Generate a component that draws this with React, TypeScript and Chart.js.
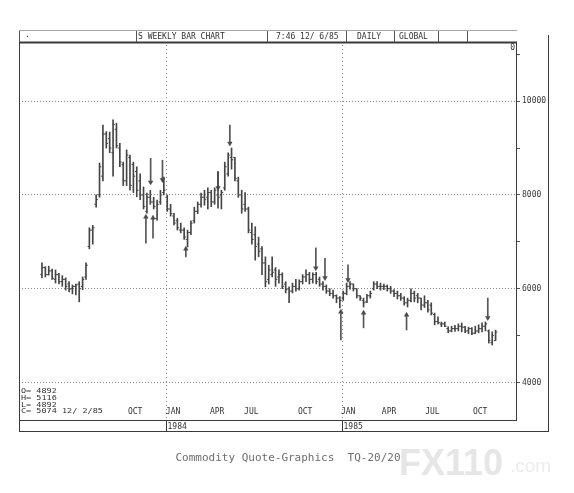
import React, { useEffect, useRef } from 'react';
import { Chart, registerables } from 'chart.js';

Chart.register(...registerables);

// Weekly OHLC (index 0 = first week shown, spring 1983; last = week of 12/2/85)
const highs = [
  6550, 6470, 6480, 6420, 6400, 6330, 6280, 6230, 6150, 6080,
  6100, 6150, 6250, 6550, 7300, 7350, 8000, 8680, 9490, 9350,
  9340, 9600, 9530, 9100, 8700, 8960, 8850, 8700, 8600, 8450,
  8170, 8040, 8100, 7950, 7890, 8100, 8380, 8000, 7800, 7610,
  7500, 7400, 7300, 7250, 7450, 7740, 7850, 8040, 8100, 8150,
  8100, 8150, 8500, 8100, 8700, 8900, 9000, 8800, 8380, 8100,
  8050, 7740, 7400, 7320, 7100, 6900, 6680, 6500, 6680, 6450,
  6400, 6340, 6150, 6040, 6120, 6200, 6190, 6300, 6400, 6350,
  6340, 6350, 6250, 6150, 6080, 6000, 5970, 5870, 5830, 5950,
  6120, 6150, 6100, 6000, 5850, 5800, 5880, 5950, 6150, 6150,
  6120, 6100, 6080, 6050, 5980, 5950, 5900, 5830, 5800, 6000,
  5950, 5900, 5800, 5850, 5750, 5700, 5480, 5400, 5290, 5290,
  5190, 5200, 5220, 5250, 5270, 5200, 5180, 5170, 5200, 5230,
  5270, 5290, 5120, 5080, 5116,
];
const lows = [
  6230, 6250, 6290, 6200, 6120, 6100, 6050, 5970, 5930, 5890,
  5870, 5720, 5980, 6200, 6850, 6950, 7740, 7950, 8300, 9000,
  8900, 8400, 9000, 8600, 8200, 8200, 8100, 8050, 7960, 7900,
  7700, 7610, 7800, 7700, 7460, 7800, 8000, 7650, 7550, 7360,
  7250, 7190, 7050, 6890, 7150, 7400, 7600, 7740, 7780, 7700,
  7750, 7800, 7720, 7700, 8100, 8400, 8550, 8300, 7950, 7610,
  7650, 7190, 6950, 6610, 6680, 6300, 6040, 6100, 6250, 6050,
  6120, 6000, 5910, 5700, 5910, 5950, 5970, 6100, 6150, 6100,
  6120, 6100, 6050, 5970, 5900, 5850, 5800, 5700, 5590, 5750,
  5870, 5990, 5950, 5800, 5750, 5610, 5700, 5800, 5970, 6000,
  5970, 5980, 5950, 5900, 5830, 5780, 5750, 5650, 5610, 5720,
  5720, 5700, 5550, 5600, 5500, 5440, 5230, 5250, 5190, 5190,
  5060, 5080, 5090, 5100, 5080, 5060, 5040, 5020, 5040, 5060,
  5080, 5100, 4840, 4800, 4892,
];
const opens = [
  6300, 6450, 6300, 6380, 6200, 6300, 6150, 6200, 6100, 6000,
  6050, 6100, 6050, 6250, 6900, 7250, 7800, 8000, 8400, 9300,
  9200, 8900, 9400, 9000, 8650, 8300, 8800, 8650, 8500, 8300,
  8000, 7650, 7950, 7850, 7500, 7850, 8050, 7950, 7700, 7550,
  7450, 7250, 7250, 7050, 7200, 7450, 7650, 7800, 7950, 7950,
  8050, 7850, 8000, 8000, 8150, 8450, 8800, 8800, 8300, 8000,
  7800, 7700, 7200, 7150, 6950, 6850, 6550, 6200, 6300, 6400,
  6250, 6300, 6100, 6000, 5950, 6050, 6000, 6150, 6250, 6300,
  6200, 6300, 6200, 6100, 6050, 5950, 5900, 5850, 5800, 5800,
  5900, 6050, 6100, 6000, 5850, 5750, 5720, 5850, 6000, 6100,
  6050, 6050, 6050, 6000, 5950, 5900, 5850, 5800, 5700, 5750,
  5900, 5850, 5800, 5650, 5700, 5650, 5450, 5300, 5250, 5250,
  5150, 5100, 5150, 5150, 5200, 5180, 5100, 5150, 5050, 5100,
  5150, 5200, 5100, 4850, 4892,
];
const closes = [
  6450, 6300, 6380, 6220, 6300, 6150, 6200, 6050, 5990, 6050,
  6080, 6000, 6200, 6500, 7250, 7300, 7900, 8600, 9300, 9100,
  9000, 9500, 9050, 8700, 8300, 8850, 8200, 8400, 8100, 8000,
  7750, 7950, 7850, 7750, 7800, 8000, 8100, 7700, 7600, 7400,
  7300, 7250, 7100, 7200, 7400, 7650, 7800, 7950, 7900, 8050,
  7850, 8100, 7950, 8050, 8600, 8850, 8750, 8350, 8000, 7700,
  7700, 7250, 7050, 6900, 6800, 6550, 6150, 6400, 6350, 6200,
  6300, 6050, 5980, 5950, 6050, 6000, 6150, 6250, 6300, 6200,
  6300, 6150, 6100, 6050, 5950, 5900, 5850, 5800, 5750, 5900,
  6050, 6100, 6000, 5850, 5800, 5700, 5850, 5900, 6100, 6050,
  6050, 6050, 6000, 5950, 5900, 5850, 5800, 5700, 5750, 5900,
  5800, 5800, 5650, 5700, 5550, 5480, 5300, 5280, 5250, 5200,
  5100, 5150, 5150, 5200, 5180, 5100, 5150, 5050, 5100, 5150,
  5200, 5250, 4900, 5000, 5074,
];

// Annotation arrows (week position, start price, tip price)
const downArrowWeeks = [32.1, 35.6, 52.0, 55.5, 80.9, 83.6, 90.4, 131.7];
const downArrowFrom = [8780, 8740, 8490, 9490, 6870, 6650, 6510, 5800];
const downArrowTip = [8270, 8320, 8150, 9100, 6440, 6230, 6190, 5380];
const upArrowWeeks = [30.7, 32.8, 42.5, 88.3, 95.0, 107.7];
const upArrowFrom = [6970, 7080, 6680, 4910, 5165, 5120];
const upArrowTip = [7530, 7510, 6850, 5505, 5485, 5440];

// Axis labels
const monthLabels = ['OCT', 'JAN', 'APR', 'JUL', 'OCT', 'JAN', 'APR', 'JUL', 'OCT'];
const monthTickWeeks = [25.4, 36.6, 49.6, 59.7, 75.6, 88.3, 100.4, 113.2, 127.3];
const yearLabels = ['1984', '1985'];
const yearStartWeeks = [36.6, 88.6];
const priceTicks = [4000, 5000, 6000, 7000, 8000, 9000, 10000, 11000];
const priceLabels = [4000, 6000, 8000, 10000];

const headerTexts = ['S WEEKLY BAR CHART', '7:46 12/ 6/85', 'DAILY', 'GLOBAL'];
const lastBarText = ['O= 4892', 'H= 5116', 'L= 4892', 'C= 5074 12/ 2/85'];
const footerText = 'Commodity Quote-Graphics  TQ-20/20';

const MONO = '"DejaVu Sans Mono", "Liberation Mono", monospace';
const INK = '#3a3a3a';

const decorPlugin = {
  id: 'decor',
  beforeDatasetsDraw(chart: any) {
    const { ctx, chartArea } = chart;
    const xs = chart.scales.x;
    ctx.save();
    ctx.strokeStyle = '#8a8a8a';
    ctx.lineWidth = 1;
    ctx.setLineDash([1, 3]);
    yearStartWeeks.forEach((w) => {
      const px = Math.round(xs.getPixelForValue(w)) + 0.5;
      ctx.beginPath();
      ctx.moveTo(px, chartArea.top + 2);
      ctx.lineTo(px, chartArea.bottom);
      ctx.stroke();
    });
    ctx.restore();
  },
  afterDraw(chart: any) {
    const { ctx, chartArea } = chart;
    const { left, right, top, bottom } = chartArea;
    const xs = chart.scales.x;
    ctx.save();
    ctx.strokeStyle = INK;
    ctx.lineWidth = 1;
    const line = (x1: number, y1: number, x2: number, y2: number) => {
      ctx.beginPath();
      ctx.moveTo(x1, y1);
      ctx.lineTo(x2, y2);
      ctx.stroke();
    };
    // plot frame
    line(left + 0.5, top, left + 0.5, 432);
    line(right - 0.5, top, right - 0.5, bottom);
    line(left, bottom + 0.5, right, bottom + 0.5);
    ctx.fillStyle = INK;
    ctx.fillRect(left, top - 1.5, right - left, 2);
    // outer box
    line(548.5, 35, 548.5, 432);
    line(left, 431.5, 549, 431.5);
    // header strip
    ctx.strokeStyle = '#a8a8a8';
    line(left, 30.5, right, 30.5);
    ctx.strokeStyle = '#555';
    [136.5, 267.5, 346.5, 394.5, 438.5, 467.5].forEach((x) => line(x, 31, x, 42));
    line(left + 0.5, 31, left + 0.5, 42);

    ctx.fillStyle = '#333';
    ctx.font = `8px ${MONO}`;
    ctx.textBaseline = 'middle';
    ctx.textAlign = 'left';
    const headerX = [138, 276, 357, 399];
    headerTexts.forEach((t, i) => ctx.fillText(t, headerX[i], 36.5));
    ctx.fillText('.', 25, 35);

    // "0" label top right
    ctx.textAlign = 'right';
    ctx.fillText('0', 515, 47.5);

    // last bar summary (squashed dot-matrix style rows)
    ctx.textAlign = 'left';
    ctx.font = `8.5px ${MONO}`;
    const rowY = [391.5, 398.2, 405, 411.7];
    lastBarText.forEach((t, i) => {
      ctx.save();
      ctx.translate(21, rowY[i]);
      ctx.scale(1, 0.78);
      ctx.fillText(t, 0, 0);
      ctx.restore();
    });

    // month labels
    ctx.font = `8px ${MONO}`;
    monthLabels.forEach((m, i) => {
      ctx.fillText(m, xs.getPixelForValue(monthTickWeeks[i]), 412);
    });
    // year labels and separators
    ctx.strokeStyle = INK;
    yearLabels.forEach((y, i) => {
      const px = Math.round(xs.getPixelForValue(yearStartWeeks[i])) + 0.5;
      line(px, bottom, px, 431);
      ctx.fillText(y, px + 1, 426.5);
    });

    // footer
    ctx.fillStyle = '#6e6e6e';
    ctx.font = `11px ${MONO}`;
    ctx.textAlign = 'center';
    ctx.fillText(footerText, 288, 458.5);

    // faint watermark
    ctx.textAlign = 'left';
    ctx.textBaseline = 'alphabetic';
    ctx.fillStyle = '#e6e6e6';
    ctx.font = 'bold 36px "Liberation Sans", Arial, sans-serif';
    ctx.fillText('FX110', 399, 475);
    ctx.fillStyle = '#ececec';
    ctx.font = '19px "Liberation Sans", Arial, sans-serif';
    ctx.fillText('.com', 510, 472);
    ctx.restore();
  },
};

export default function App() {
  const canvasRef = useRef<HTMLCanvasElement | null>(null);

  useEffect(() => {
    const canvas = canvasRef.current;
    if (!canvas) return;
    const weeks = highs.map((_, i) => i);
    const shafts = [
      ...downArrowWeeks.map((w, i) => ({ x: w, y: [downArrowTip[i], downArrowFrom[i]] })),
      ...upArrowWeeks.map((w, i) => ({ x: w, y: [upArrowFrom[i], upArrowTip[i]] })),
    ];
    const chart = new Chart(canvas, {
      type: 'bar',
      data: {
        datasets: [
          {
            type: 'bar',
            label: 'range',
            data: weeks.map((i) => ({ x: i, y: [lows[i], highs[i]] })),
            backgroundColor: '#454545',
            borderWidth: 0,
            barThickness: 1,
            grouped: false,
          } as any,
          {
            type: 'scatter',
            label: 'open',
            data: weeks.map((i) => ({ x: i, y: opens[i] })),
            pointStyle: 'dash',
            rotation: 180,
            radius: 1.8,
            borderColor: '#454545',
            borderWidth: 1,
          } as any,
          {
            type: 'scatter',
            label: 'close',
            data: weeks.map((i) => ({ x: i, y: closes[i] })),
            pointStyle: 'dash',
            rotation: 0,
            radius: 1.8,
            borderColor: '#454545',
            borderWidth: 1,
          } as any,
          {
            type: 'bar',
            label: 'arrow shafts',
            data: shafts,
            backgroundColor: '#555',
            borderWidth: 0,
            barThickness: 1,
            grouped: false,
          } as any,
          {
            type: 'scatter',
            label: 'down heads',
            data: downArrowWeeks.map((w, i) => ({ x: w, y: downArrowTip[i] })),
            pointStyle: 'triangle',
            rotation: 180,
            radius: 2.6,
            backgroundColor: '#404040',
            borderColor: '#404040',
            borderWidth: 0.5,
          } as any,
          {
            type: 'scatter',
            label: 'up heads',
            data: upArrowWeeks.map((w, i) => ({ x: w, y: upArrowTip[i] })),
            pointStyle: 'triangle',
            rotation: 0,
            radius: 2.6,
            backgroundColor: '#404040',
            borderColor: '#404040',
            borderWidth: 0.5,
          } as any,
        ],
      },
      options: {
        responsive: false,
        animation: false,
        devicePixelRatio: 1,
        events: [],
        layout: { padding: { left: 19, top: 43, right: 0, bottom: 73 } },
        plugins: { legend: { display: false }, tooltip: { enabled: false } },
        scales: {
          x: { type: 'linear', display: false, min: -6.79, max: 140.33, offset: false },
          y: {
            type: 'linear',
            position: 'right',
            min: 3200,
            max: 11240,
            afterFit: (s: any) => {
              s.width = 57;
            },
            afterBuildTicks: (s: any) => {
              s.ticks = priceTicks.map((v) => ({ value: v }));
            },
            ticks: {
              autoSkip: false,
              padding: 2,
              color: '#3a3a3a',
              font: { family: MONO, size: 8 },
              callback: (v: any) => (priceLabels.includes(Number(v)) ? String(v) : ''),
            },
            grid: {
              color: (c: any) =>
                c.tick && priceLabels.includes(c.tick.value) ? '#8a8a8a' : 'rgba(0,0,0,0)',
              tickColor: '#555',
              tickLength: 3,
              lineWidth: 1,
            },
            border: { display: false, dash: [1, 2] },
          },
        },
      } as any,
      plugins: [decorPlugin],
    });
    return () => chart.destroy();
  }, []);

  return (
    <div style={{ position: 'absolute', left: 0, top: 0, width: 574, height: 493, background: '#fff' }}>
      <canvas ref={canvasRef} width={574} height={493} style={{ display: 'block' }} />
    </div>
  );
}
